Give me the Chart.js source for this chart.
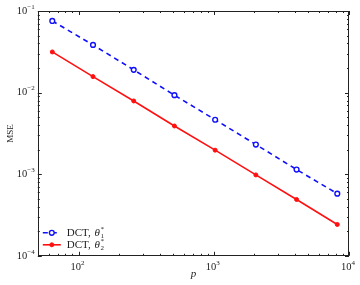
<!DOCTYPE html>
<html>
<head>
<meta charset="utf-8">
<script src="https://cdn.jsdelivr.net/npm/chart.js@4.4.0/dist/chart.umd.min.js"></script>
<style>
  html, body { margin: 0; padding: 0; background: #fff; }
  #wrap { width: 360px; height: 285px; }
</style>
</head>
<body>
<div id="wrap"><canvas id="myChart" width="360" height="285"></canvas></div>
<script>
// values
const p = [64, 128, 256, 512, 1024, 2048, 4096, 8192];
const mseTheta1 = [0.0755, 0.0384, 0.0190, 0.0093, 0.00465, 0.00231, 0.00114, 0.000578];
const mseTheta2 = [0.0315, 0.0157, 0.0079, 0.0039, 0.00197, 0.00098, 0.00049, 0.000242];

// decade tick labels (exponents of 10)
const xTickExp = [2, 3, 4];
const yTickExp = [-4, -3, -2, -1];

const serif = "'Liberation Serif', 'Times New Roman', serif";

function toPoints(xs, ys) {
  return xs.map((v, i) => ({x: v, y: ys[i]}));
}

// draws "10" with a raised exponent
function drawPow(ctx, exp, px, py, align) {
  const base = '10';
  const e = exp < 0 ? '\u2212' + Math.abs(exp) : String(exp);
  ctx.font = '10.5px ' + serif;
  const wb = ctx.measureText(base).width;
  ctx.font = '7px ' + serif;
  const we = ctx.measureText(e).width;
  let start = align === 'right' ? px - wb - we : px - (wb + we) / 2;
  ctx.textBaseline = 'middle';
  ctx.textAlign = 'left';
  ctx.font = '10.5px ' + serif;
  ctx.fillText(base, start, py);
  ctx.font = '7px ' + serif;
  ctx.fillText(e, start + wb, py - 4);
}

// frame, inward ticks on all four sides, labels and legend
const framePlugin = {
  id: 'frame',
  afterDraw(chart) {
    const ctx = chart.ctx;
    const a = chart.chartArea;
    const xs = chart.scales.x, ys = chart.scales.y;
    ctx.save();
    ctx.strokeStyle = '#222';
    ctx.fillStyle = '#222';
    ctx.lineWidth = 1;
    ctx.strokeRect(Math.round(a.left) + 0.5, Math.round(a.top) + 0.5,
                   Math.round(a.right - a.left) - 1, Math.round(a.bottom - a.top) - 1);

    ctx.beginPath();
    for (let n = 1; n <= 4; n++) {
      for (let k = 1; k <= 9; k++) {
        const v = k * Math.pow(10, n);
        if (v < xs.min || v > xs.max) continue;
        const px = Math.round(xs.getPixelForValue(v)) + 0.5;
        const len = k === 1 ? 4 : 2;
        ctx.moveTo(px, a.bottom); ctx.lineTo(px, a.bottom - len);
        ctx.moveTo(px, a.top); ctx.lineTo(px, a.top + len);
      }
    }
    for (let n = -4; n <= -1; n++) {
      for (let k = 1; k <= 9; k++) {
        const v = k * Math.pow(10, n);
        if (v < ys.min || v > ys.max * 1.0001) continue;
        const py = Math.round(ys.getPixelForValue(v)) + 0.5;
        const len = k === 1 ? 4 : 2;
        ctx.moveTo(a.left, py); ctx.lineTo(a.left + len, py);
        ctx.moveTo(a.right, py); ctx.lineTo(a.right - len, py);
      }
    }
    ctx.stroke();

    xTickExp.forEach(e => {
      drawPow(ctx, e, xs.getPixelForValue(Math.pow(10, e)) - 1, a.bottom + 11, 'center');
    });
    yTickExp.forEach(e => {
      drawPow(ctx, e, a.left - 3, ys.getPixelForValue(Math.pow(10, e)), 'right');
    });

    // legend
    const rows = [
      {ds: chart.data.datasets[0], sub: '1', y: a.bottom - 23},
      {ds: chart.data.datasets[1], sub: '2', y: a.bottom - 11}
    ];
    rows.forEach(r => {
      const x0 = a.left + 5, x1 = a.left + 23, xm = (x0 + x1) / 2;
      ctx.save();
      ctx.strokeStyle = r.ds.borderColor;
      ctx.lineWidth = r.ds.borderWidth;
      ctx.setLineDash(r.ds.borderDash || []);
      ctx.beginPath();
      ctx.moveTo(x0, r.y); ctx.lineTo(x1, r.y);
      ctx.stroke();
      ctx.setLineDash([]);
      ctx.beginPath();
      ctx.arc(xm, r.y, r.ds.pointRadius, 0, Math.PI * 2);
      ctx.fillStyle = r.ds.pointBackgroundColor;
      ctx.fill();
      ctx.lineWidth = r.ds.pointBorderWidth;
      ctx.stroke();
      ctx.restore();

      ctx.fillStyle = '#222';
      ctx.textBaseline = 'middle';
      ctx.textAlign = 'left';
      ctx.font = '11px ' + serif;
      let tx = x1 + 6;
      ctx.fillText('DCT, ', tx, r.y);
      tx += ctx.measureText('DCT, ').width + 1;
      ctx.font = 'italic 11px ' + serif;
      ctx.fillText('\u03b8', tx, r.y);
      tx += ctx.measureText('\u03b8').width + 0.5;
      ctx.font = '7px ' + serif;
      ctx.fillText('*', tx, r.y - 4);
      ctx.fillText(r.sub, tx, r.y + 3);
    });
    ctx.restore();
  }
};

var ctx = document.getElementById('myChart').getContext('2d');
var myChart = new Chart(ctx, {
  type: 'line',
  data: {
    datasets: [{
      label: 'DCT, \u03b81*',
      data: toPoints(p, mseTheta1),
      borderColor: '#1010ff',
      borderWidth: 1.6,
      borderDash: [5, 4],
      pointRadius: 2.4,
      pointBorderWidth: 1.4,
      pointBorderColor: '#1010ff',
      pointBackgroundColor: '#ffffff',
      tension: 0
    }, {
      label: 'DCT, \u03b82*',
      data: toPoints(p, mseTheta2),
      borderColor: '#ff1010',
      borderWidth: 1.6,
      pointRadius: 2,
      pointBorderWidth: 1,
      pointBorderColor: '#ff1010',
      pointBackgroundColor: '#ff1010',
      tension: 0
    }]
  },
  options: {
    responsive: false,
    animation: false,
    layout: { padding: { top: 11, right: 11, left: 0, bottom: 0 } },
    plugins: { legend: { display: false }, tooltip: { enabled: false } },
    scales: {
      x: {
        type: 'logarithmic',
        min: 50,
        max: 10000,
        grid: { display: false, drawTicks: false },
        border: { display: false },
        ticks: { display: false },
        title: {
          display: true,
          text: 'p',
          color: '#222',
          font: { family: serif, size: 11, style: 'italic' },
          padding: { top: 12, bottom: 4 }
        }
      },
      y: {
        type: 'logarithmic',
        min: 0.0001,
        max: 0.1,
        grid: { display: false, drawTicks: false },
        border: { display: false },
        ticks: { display: false },
        title: {
          display: true,
          text: 'MSE',
          color: '#222',
          font: { family: serif, size: 9 },
          padding: { top: 5, bottom: 22 }
        }
      }
    }
  },
  plugins: [framePlugin]
});
</script>
</body>
</html>
